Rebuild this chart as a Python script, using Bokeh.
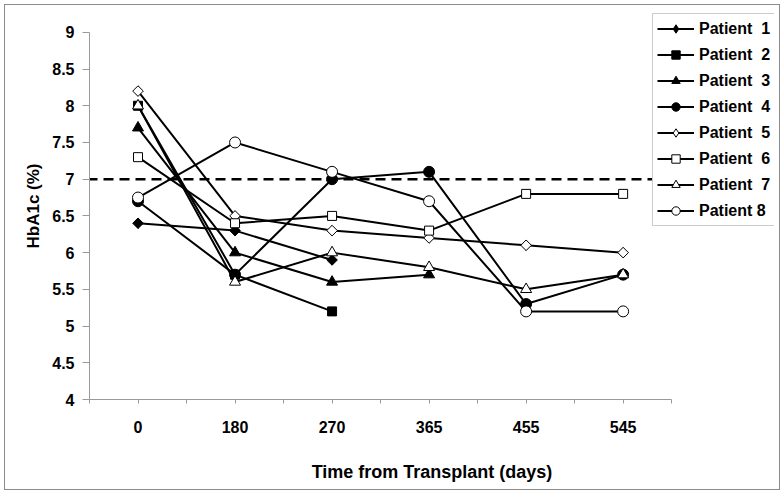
from bokeh.plotting import figure
from bokeh.models import FixedTicker, Legend, LegendItem, NumeralTickFormatter, Range1d
from bokeh.embed import file_html
from bokeh.resources import INLINE
import numpy as np

# ---- data ----
categories = ["0", "180", "270", "365", "455", "545"]
patient_labels = ["Patient\u00a0 1", "Patient\u00a0 2", "Patient\u00a0 3", "Patient\u00a0 4",
                  "Patient\u00a0 5", "Patient\u00a0 6", "Patient\u00a0 7", "Patient 8"]
patient_1 = [6.4, 6.3, 5.9]
patient_2 = [8.0, 5.7, 5.2]
patient_3 = [7.7, 6.0, 5.6, 5.7]
patient_4 = [6.7, 5.7, 7.0, 7.1, 5.3, 5.7]
patient_5 = [8.2, 6.5, 6.3, 6.2, 6.1, 6.0]
patient_6 = [7.3, 6.4, 6.5, 6.3, 6.8, 6.8]
patient_7 = [8.0, 5.6, 6.0, 5.8, 5.5, 5.7]
patient_8 = [6.75, 7.5, 7.1, 6.7, 5.2, 5.2]
threshold = 7.0
y_tick_values = [4, 4.5, 5, 5.5, 6, 6.5, 7, 7.5, 8, 8.5, 9]

series = [patient_1, patient_2, patient_3, patient_4,
          patient_5, patient_6, patient_7, patient_8]
# marker per patient: (kind, filled)
markers = [("diamond", True), ("square", True), ("triangle", True), ("circle", True),
           ("diamond", False), ("square", False), ("triangle", False), ("circle", False)]

FONT = "Liberation Sans"

n = len(categories)
x_lo, x_hi = -0.5, n - 0.5
y_lo, y_hi = y_tick_values[0], y_tick_values[-1]

# frame widened/heightened so the legend (which overlaps the plot edge) is not clipped;
# the axis lines are bounded to the data area.
p = figure(width=784, height=494, output_backend="svg", toolbar_location=None,
           x_range=Range1d(x_lo, x_hi + 1.06),
           y_range=Range1d(y_lo, y_hi + 0.27),
           min_border_left=89, min_border_right=10, min_border_top=12, min_border_bottom=95)
p.styles = {"outline": "1px solid #8c8c8c", "outline-offset": "-5px",
            "box-shadow": "inset 0 0 0 4px #ffffff, inset 0 0 0 5px #8c8c8c"}
p.outline_line_color = None
p.xgrid.visible = False
p.ygrid.visible = False
p.background_fill_color = "white"
p.border_fill_alpha = 0.0

idx = list(range(n))
p.xaxis.ticker = FixedTicker(ticks=idx, minor_ticks=[i - 0.5 for i in idx] + [x_hi])
p.xaxis.major_label_overrides = {i: c for i, c in zip(idx, categories)}
p.xaxis.bounds = (x_lo, x_hi)
p.xaxis.major_tick_in = 0
p.xaxis.major_tick_out = 4
p.xaxis.minor_tick_in = 0
p.xaxis.minor_tick_out = 4
p.xaxis.major_label_standoff = 17
p.xaxis.axis_label = "Time from Transplant (days)"
p.xaxis.axis_label_standoff = 26

p.yaxis.ticker = FixedTicker(ticks=y_tick_values, minor_ticks=[])
p.yaxis.formatter = NumeralTickFormatter(format="0.[0]")
p.yaxis.bounds = (y_lo, y_hi)
p.yaxis.major_tick_in = 0
p.yaxis.major_tick_out = 7
p.yaxis.major_label_standoff = 8
p.yaxis.axis_label = "HbA1c (%)"
p.yaxis.axis_label_standoff = 6

for ax in (p.xaxis, p.yaxis):
    ax.axis_line_color = "#9a9a9a"
    ax.major_tick_line_color = "#9a9a9a"
    ax.minor_tick_line_color = "#9a9a9a"
    ax.major_label_text_font = FONT
    ax.major_label_text_font_style = "bold"
    ax.major_label_text_font_size = "16px"
    ax.major_label_text_color = "black"
    ax.axis_label_text_font = FONT
    ax.axis_label_text_font_style = "bold"
    ax.axis_label_text_color = "black"
p.xaxis.axis_label_text_font_size = "18px"
p.yaxis.axis_label_text_font_size = "17px"

# threshold line across the category area (passes under the legend)
p.line([x_lo, x_hi], [threshold, threshold], line_color="black",
       line_width=2.5, line_dash="10 6", line_dash_offset=2)

items = []
for vals, lab, (kind, filled) in zip(series, patient_labels, markers):
    xs = idx[:len(vals)]
    fill = "black" if filled else "white"
    r_line = p.line(xs, vals, line_color="black", line_width=2)
    if kind == "diamond":
        # diamond glyph used by the legend (hidden below the even diamond drawn next)
        r_leg = p.scatter(xs, vals, marker="diamond", size=10,
                          fill_color=fill, line_color="black", line_width=1)
        # a square turned by 45 degrees gives Excel's even diamond in the plot
        p.scatter(xs, vals, marker="square", size=7.5, angle=np.pi / 4,
                  fill_color=fill, line_color="black", line_width=1)
        rends = [r_line, r_leg]
    else:
        size = {"square": 9, "triangle": 11, "circle": 11}[kind]
        r_pt = p.scatter(xs, vals, marker=kind, size=size,
                         fill_color=fill, line_color="black", line_width=1)
        rends = [r_line, r_pt]
    items.append(LegendItem(label=lab, renderers=rends))

legend = Legend(items=items, location=(563, 173), orientation="vertical",
                label_text_font=FONT, label_text_font_style="bold",
                label_text_font_size="16px", label_text_color="black",
                glyph_width=37, glyph_height=21, label_height=21, spacing=5,
                padding=4, margin=0, label_standoff=5,
                border_line_color="#9a9a9a", border_line_width=1,
                background_fill_color="white", background_fill_alpha=1.0)
p.add_layout(legend, "center")

open("out.html", "w").write(file_html(p, INLINE))
